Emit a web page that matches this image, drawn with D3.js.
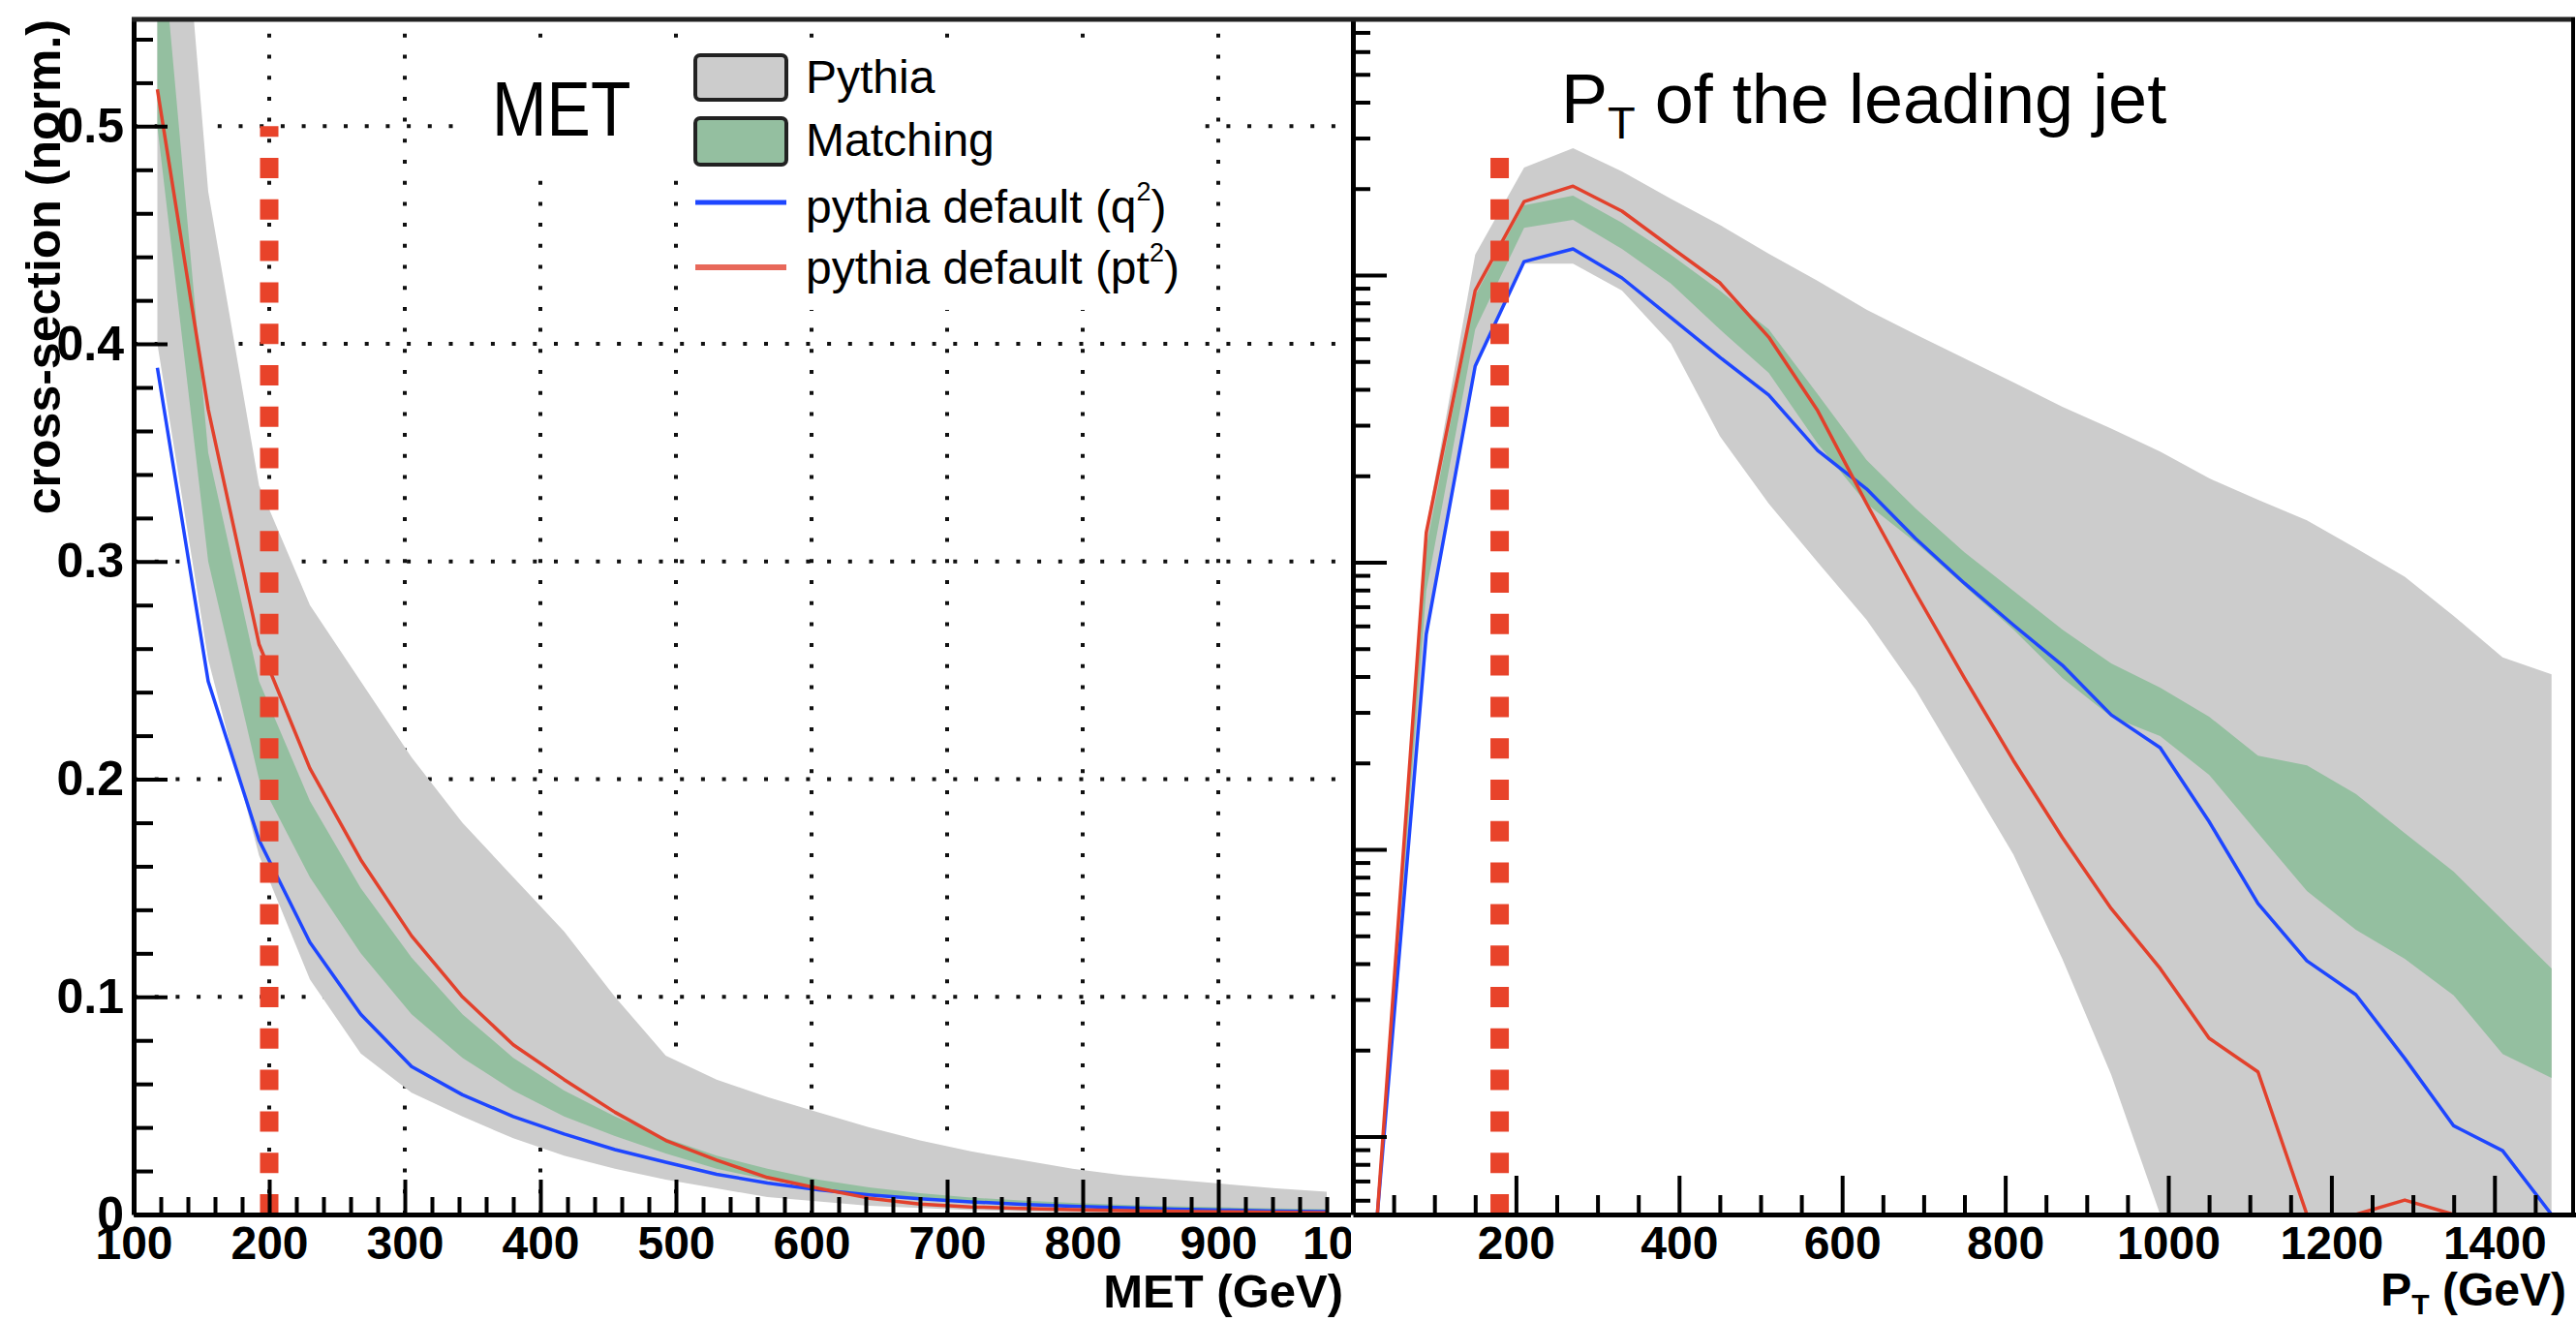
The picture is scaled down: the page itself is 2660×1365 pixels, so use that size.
<!DOCTYPE html>
<html><head><meta charset="utf-8">
<script src="https://cdn.jsdelivr.net/npm/d3@7"></script>
<style>
html,body{margin:0;padding:0;background:#fff;}
svg{display:block;}
</style></head><body>
<svg id="chart" width="2660" height="1365"></svg>
<script>
// ---------------- DATA ----------------
// Left panel: MET
const metBins = [117.5,155,192.5,230,267.5,305,342.5,380,417.5,455,492.5,530,567.5,605,642.5,680,717.5,755,792.5,830,867.5,905,942.5,980];
const metPythiaHi = [0.75,0.47,0.335,0.28,0.245,0.21,0.18,0.155,0.13,0.1,0.073,0.062,0.054,0.047,0.04,0.034,0.029,0.025,0.021,0.018,0.016,0.014,0.012,0.0105];
const metPythiaLo = [0.40,0.255,0.165,0.108,0.074,0.056,0.045,0.035,0.027,0.021,0.016,0.012,0.008,0.006,0.004,0.003,0.002,0.0015,0.001,0.0008,0.0006,0.0005,0.0004,0.0003];
const metMatchHi = [0.61,0.35,0.245,0.19,0.15,0.118,0.092,0.072,0.057,0.045,0.035,0.027,0.021,0.016,0.0125,0.0098,0.0078,0.0064,0.0053,0.0045,0.0038,0.0033,0.0028,0.0024];
const metMatchLo = [0.50,0.30,0.20,0.155,0.12,0.092,0.072,0.057,0.045,0.036,0.028,0.021,0.016,0.012,0.009,0.007,0.0055,0.0045,0.0036,0.003,0.0025,0.002,0.0016,0.0012];
const metQ2 = [0.389,0.245,0.172,0.125,0.092,0.068,0.055,0.045,0.037,0.0298,0.024,0.0185,0.0145,0.0113,0.009,0.0072,0.0058,0.0047,0.0038,0.0031,0.0025,0.002,0.0016,0.0013];
const metPt2 = [0.517,0.37,0.262,0.205,0.163,0.128,0.1,0.078,0.062,0.047,0.034,0.025,0.017,0.012,0.0075,0.0048,0.0035,0.0028,0.0022,0.0018,0.0015,0.0012,0.001,0.0008];
const metCut = 200;
const metCutTop = 0.5;
const metXTicks = [100,200,300,400,500,600,700,800,900,1000];
const metYTicks = [0,0.1,0.2,0.3,0.4,0.5];
const metGridX = [200,300,400,500,600,700,800,900];
const metGridY = [0.1,0.2,0.3,0.4,0.5];

// Right panel: PT of the leading jet (log y)
const ptBins = [30,90,150,210,270,330,390,450,510,570,630,690,750,810,870,930,990,1050,1110,1170,1230,1290,1350,1410,1470];
const ptPythiaHi = [0,0.0132,0.1178,0.2366,0.2767,0.2296,0.1845,0.1496,0.1186,0.0955,0.0757,0.0622,0.0513,0.0423,0.0348,0.0292,0.0243,0.0196,0.0165,0.014,0.0112,0.0089,0.0065,0.00466,0.00407];
const ptPythiaLo = [0,0.0054,0.0474,0.1096,0.1096,0.0883,0.0577,0.0275,0.016,0.01,0.0063,0.0036,0.00186,0.00096,0.000416,0.000164,0,0,0,0,0,0,0,0,0];
const ptMatchHi = [0,0.01127,0.0849,0.175,0.189,0.152,0.1178,0.0883,0.0647,0.0385,0.0227,0.01538,0.01083,0.00795,0.00583,0.00444,0.00366,0.0029,0.00212,0.00196,0.00156,0.00114,0.000836,0.000567,0.000385];
const ptMatchLo = [0,0.00795,0.0647,0.146,0.1556,0.1233,0.0934,0.0647,0.0456,0.0259,0.016,0.01172,0.00826,0.00583,0.00395,0.0029,0.00248,0.00182,0.00114,0.000716,0.000525,0.000416,0.00031,0.000194,0.00016];
const ptQ2 = [0,0.00561,0.0482,0.1114,0.1233,0.0977,0.0711,0.0517,0.0382,0.0245,0.018,0.0121,0.00845,0.00605,0.00438,0.00294,0.00226,0.00125,0.000648,0.000409,0.000312,0.000187,0.000109,0.0000893,0];
const ptPt2 = [0,0.01268,0.0883,0.1803,0.204,0.167,0.125,0.094,0.0608,0.0337,0.016,0.00783,0.00395,0.00204,0.0011,0.000622,0.000385,0.00022,0.000168,0,0,0.0000601,0,0,0];
const ptCut = 180;
const ptCutTop = 0.26;
const ptXTicks = [200,400,600,800,1000,1200,1400];

const legendNames = ["Pythia","Matching","pythia default (q","pythia default (pt"];

// ---------------- STYLE ----------------
const FONT = '"Liberation Sans", Arial, Helvetica, sans-serif';
const C_GRAY = "#cccccc", C_GREEN = "#94bfa0", C_BLUE = "#1e46ff", C_RED = "#e2412c", C_CUT = "#e8432a";
const W = 2660, H = 1365;

const svg = d3.select("#chart");
svg.append("rect").attr("width",W).attr("height",H).attr("fill","#fff");
const defs = svg.append("defs");
function clip(id,x,y,w,h){defs.append("clipPath").attr("id",id).append("rect").attr("x",x).attr("y",y).attr("width",w).attr("height",h);}
clip("padL",0,0,1395,H);
clip("padR",1395,0,W-1395,H);
clip("plotL",138,20,1260,1234);
clip("plotR",1397,20,1263,1234);

function styleAxis(g, fs){
  g.attr("font-family",FONT).attr("font-size",fs).attr("font-weight","bold");
  g.select(".domain").attr("stroke","#000").attr("stroke-width",5);
  g.selectAll(".tick line").attr("stroke","#000").attr("stroke-width",4);
  g.selectAll(".tick text").attr("fill","#000");
}

// ================= LEFT PAD =================
const gL = svg.append("g").attr("clip-path","url(#padL)");
const xL = d3.scaleLinear().domain([100,1000]).range([138,1398]);
const yL = d3.scaleLinear().domain([0,0.55]).range([1254,18]);

// dotted grid
const grid = gL.append("g").attr("stroke","#111").attr("stroke-width",4).attr("stroke-dasharray","4 17.7");
grid.selectAll("line.gv").data(metGridX).join("line").attr("class","gv")
  .attr("x1",d=>xL(d)).attr("x2",d=>xL(d)).attr("y1",yL(0)).attr("y2",20);
grid.selectAll("line.gh").data(metGridY).join("line").attr("class","gh")
  .attr("x1",xL(100)).attr("x2",xL(1000)).attr("y1",d=>yL(d)).attr("y2",d=>yL(d));

// white title / legend boxes
gL.append("rect").attr("x",477).attr("y",43).attr("width",228).attr("height",129).attr("fill","#fff");
gL.append("rect").attr("x",703).attr("y",43).attr("width",540).attr("height",277).attr("fill","#fff");

const plotL = gL.append("g").attr("clip-path","url(#plotL)");
const metRows = metBins.map((b,i)=>({x:b, pLo:metPythiaLo[i], pHi:metPythiaHi[i], mLo:metMatchLo[i], mHi:metMatchHi[i], q2:metQ2[i], pt2:metPt2[i]}));
plotL.append("path").datum(metRows).attr("fill",C_GRAY)
  .attr("d",d3.area().x(d=>xL(d.x)).y0(d=>yL(d.pLo)).y1(d=>yL(d.pHi)));
plotL.append("path").datum(metRows).attr("fill",C_GREEN)
  .attr("d",d3.area().x(d=>xL(d.x)).y0(d=>yL(d.mLo)).y1(d=>yL(d.mHi)));
plotL.append("path").datum(metRows).attr("fill","none").attr("stroke",C_BLUE).attr("stroke-width",3.5).attr("stroke-linejoin","round")
  .attr("d",d3.line().x(d=>xL(d.x)).y(d=>yL(d.q2)));
plotL.append("path").datum(metRows).attr("fill","none").attr("stroke",C_RED).attr("stroke-width",3.5).attr("stroke-linejoin","round")
  .attr("d",d3.line().x(d=>xL(d.x)).y(d=>yL(d.pt2)));
plotL.append("line").attr("x1",xL(metCut)).attr("x2",xL(metCut)).attr("y1",yL(0)).attr("y2",yL(metCutTop))
  .attr("stroke",C_CUT).attr("stroke-width",19).attr("stroke-dasharray","21 21.8");

// axes
const axLX = gL.append("g").attr("transform",`translate(0,${yL(0)})`)
  .call(d3.axisBottom(xL).tickValues(metXTicks).tickSizeInner(-36).tickSizeOuter(0).tickPadding(12).tickFormat(d3.format("d")));
styleAxis(axLX,48);
const metXMinor = d3.range(120,1000,20).filter(v=>v%100!==0);
const axLXm = gL.append("g").attr("transform",`translate(0,${yL(0)})`)
  .call(d3.axisBottom(xL).tickValues(metXMinor).tickSizeInner(-18).tickSizeOuter(0).tickFormat(""));
styleAxis(axLXm,10); axLXm.select(".domain").remove();

const axLY = gL.append("g").attr("transform",`translate(${xL(100)},0)`)
  .call(d3.axisLeft(yL).tickValues(metYTicks).tickSizeInner(-35).tickSizeOuter(0).tickPadding(10).tickFormat(d=>d===0?"0":d3.format(".1f")(d)));
styleAxis(axLY,50);
const metYMinor = d3.range(1,28).map(i=>i*0.02).filter(v=>Math.abs(v*10-Math.round(v*10))>1e-6);
const axLYm = gL.append("g").attr("transform",`translate(${xL(100)},0)`)
  .call(d3.axisLeft(yL).tickValues(metYMinor).tickSizeInner(-20).tickSizeOuter(0).tickFormat(""));
styleAxis(axLYm,10); axLYm.select(".domain").remove();

// titles
gL.append("text").attr("transform","translate(508,140) scale(0.86,1)").attr("font-family",FONT).attr("font-size",79).text("MET");
gL.append("text").attr("x",1387).attr("y",1350).attr("text-anchor","end").attr("font-family",FONT)
  .attr("font-size",49).attr("font-weight","bold").text("MET (GeV)");
gL.append("text").attr("transform","translate(62,20) rotate(-90)").attr("text-anchor","end")
  .attr("font-family",FONT).attr("font-size",50).attr("font-weight","bold").text("cross-section (norm.)");

// legend
const lg = gL.append("g").attr("font-family",FONT).attr("font-size",48);
lg.append("rect").attr("x",718).attr("y",57).attr("width",94).attr("height",46).attr("rx",5)
  .attr("fill",C_GRAY).attr("stroke","#222").attr("stroke-width",4);
lg.append("rect").attr("x",718).attr("y",122).attr("width",94).attr("height",48).attr("rx",5)
  .attr("fill",C_GREEN).attr("stroke","#222").attr("stroke-width",4);
lg.append("line").attr("x1",718).attr("x2",812).attr("y1",209).attr("y2",209).attr("stroke",C_BLUE).attr("stroke-width",5);
lg.append("line").attr("x1",718).attr("x2",812).attr("y1",276).attr("y2",276).attr("stroke","#e8685a").attr("stroke-width",6);
lg.append("text").attr("x",832).attr("y",96).text(legendNames[0]);
lg.append("text").attr("x",832).attr("y",161).text(legendNames[1]);
const t3 = lg.append("text").attr("x",832).attr("y",230);
t3.append("tspan").text(legendNames[2]);
t3.append("tspan").attr("font-size",27).attr("dy",-23).text("2");
t3.append("tspan").attr("dy",23).text(")");
const t4 = lg.append("text").attr("x",832).attr("y",293);
t4.append("tspan").text(legendNames[3]);
t4.append("tspan").attr("font-size",27).attr("dy",-23).text("2");
t4.append("tspan").attr("dy",23).text(")");

// ================= RIGHT PAD =================
const gR = svg.append("g").attr("clip-path","url(#padR)");
gR.append("rect").attr("x",1395).attr("y",0).attr("width",W-1395).attr("height",H).attr("fill","#fff");
const xR = d3.scaleLinear().domain([0,1500]).range([1397,2660]);
const yR = d3.scaleLog().domain([Math.pow(10,-4.2715),Math.pow(10,-0.1096)]).range([1254,20]);
const yMin = yR.domain()[0];
const yRc = v => yR(Math.max(v,yMin));

const plotR = gR.append("g").attr("clip-path","url(#plotR)");
const ptRows = ptBins.map((b,i)=>({x:b, pLo:ptPythiaLo[i], pHi:ptPythiaHi[i], mLo:ptMatchLo[i], mHi:ptMatchHi[i], q2:ptQ2[i], pt2:ptPt2[i]}));
plotR.append("path").datum(ptRows).attr("fill",C_GRAY)
  .attr("d",d3.area().x(d=>xR(d.x)).y0(d=>yRc(d.pLo)).y1(d=>yRc(d.pHi)));
plotR.append("path").datum(ptRows).attr("fill",C_GREEN)
  .attr("d",d3.area().x(d=>xR(d.x)).y0(d=>yRc(d.mLo)).y1(d=>yRc(d.mHi)));
plotR.append("path").datum(ptRows).attr("fill","none").attr("stroke",C_BLUE).attr("stroke-width",3.5).attr("stroke-linejoin","round")
  .attr("d",d3.line().x(d=>xR(d.x)).y(d=>yRc(d.q2)));
plotR.append("path").datum(ptRows).attr("fill","none").attr("stroke",C_RED).attr("stroke-width",3.5).attr("stroke-linejoin","round")
  .attr("d",d3.line().x(d=>xR(d.x)).y(d=>yRc(d.pt2)));
plotR.append("line").attr("x1",xR(ptCut)).attr("x2",xR(ptCut)).attr("y1",yR(yMin)).attr("y2",yR(ptCutTop))
  .attr("stroke",C_CUT).attr("stroke-width",19).attr("stroke-dasharray","21 21.8");

const axRX = gR.append("g").attr("transform",`translate(0,${yR(yMin)})`)
  .call(d3.axisBottom(xR).tickValues(ptXTicks).tickSizeInner(-40).tickSizeOuter(0).tickPadding(12).tickFormat(d3.format("d")));
styleAxis(axRX,48);
const ptXMinor = d3.range(50,1500,50).filter(v=>v%200!==0);
const axRXm = gR.append("g").attr("transform",`translate(0,${yR(yMin)})`)
  .call(d3.axisBottom(xR).tickValues(ptXMinor).tickSizeInner(-20).tickSizeOuter(0).tickFormat(""));
styleAxis(axRXm,10); axRXm.select(".domain").remove();

const logTicks = yR.ticks();
const isMajor = v => Math.abs(Math.log10(v)-Math.round(Math.log10(v)))<1e-6;
const axRY = gR.append("g").attr("transform",`translate(${xR(0)},0)`)
  .call(d3.axisLeft(yR).tickValues(logTicks.filter(isMajor)).tickSizeInner(-35).tickSizeOuter(0).tickFormat(""));
styleAxis(axRY,10);
const axRYm = gR.append("g").attr("transform",`translate(${xR(0)},0)`)
  .call(d3.axisLeft(yR).tickValues(logTicks.filter(v=>!isMajor(v))).tickSizeInner(-18).tickSizeOuter(0).tickFormat(""));
styleAxis(axRYm,10); axRYm.select(".domain").remove();

// right titles
const tt = gR.append("text").attr("x",1612).attr("y",127).attr("font-family",FONT).attr("font-size",72);
tt.append("tspan").text("P");
tt.append("tspan").attr("font-size",47).attr("dy",16).text("T");
tt.append("tspan").attr("dy",-16).text(" of the leading jet");
const xt = gR.append("text").attr("x",2650).attr("y",1348).attr("text-anchor","end").attr("font-family",FONT)
  .attr("font-size",48).attr("font-weight","bold");
xt.append("tspan").text("P");
xt.append("tspan").attr("font-size",30).attr("dy",9).text("T");
xt.append("tspan").attr("dy",-9).text(" (GeV)");

// frame: top and right borders
svg.append("line").attr("x1",136).attr("x2",2659).attr("y1",20).attr("y2",20).attr("stroke","#222").attr("stroke-width",5);
svg.append("line").attr("x1",2657).attr("x2",2657).attr("y1",18).attr("y2",1256).attr("stroke","#000").attr("stroke-width",4);
</script>
</body></html>
